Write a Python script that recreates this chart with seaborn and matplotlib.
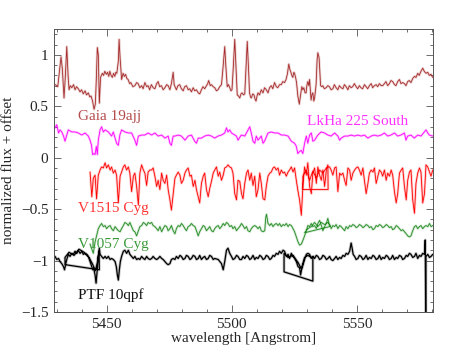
import numpy as np
import pandas as pd
import matplotlib
matplotlib.use("Agg")
import matplotlib.pyplot as plt
import seaborn as sns
from matplotlib.ticker import MultipleLocator, FuncFormatter

# spectra: (wavelength [A], normalized flux + offset)
gaia = [(5429.5, 0.71), (5430.5, 0.69), (5431.3, 0.87), (5431.8, 0.98), (5432.3, 0.87), (5433.0, 0.58),
        (5433.5, 0.78), (5434.1, 1.08), (5434.6, 0.81), (5435.0, 0.66), (5435.5, 0.70), (5436.1, 0.68),
        (5436.8, 0.71), (5437.4, 0.66), (5438.0, 0.69), (5438.7, 0.67), (5439.4, 0.64), (5440.0, 0.66),
        (5440.7, 0.62), (5441.4, 0.65), (5442.0, 0.61), (5442.7, 0.63), (5443.3, 0.59), (5443.8, 0.60),
        (5444.4, 0.55), (5445.0, 0.47), (5445.5, 0.52), (5445.9, 0.76), (5446.3, 1.07), (5446.7, 1.00),
        (5447.1, 0.53), (5447.6, 0.78), (5448.3, 0.82), (5448.8, 0.80), (5449.3, 0.84), (5449.9, 0.81),
        (5450.4, 0.83), (5450.9, 0.79), (5451.3, 0.84), (5451.8, 0.80), (5452.3, 0.78), (5452.8, 0.82),
        (5453.3, 0.79), (5453.7, 0.83), (5454.1, 0.82), (5454.7, 0.94), (5455.0, 1.15), (5455.4, 0.97),
        (5456.0, 0.76), (5456.6, 0.82), (5457.1, 0.79), (5457.6, 0.81), (5458.1, 0.77), (5458.6, 0.76),
        (5459.2, 0.72), (5459.7, 0.73), (5460.5, 0.69), (5461.3, 0.70), (5462.0, 0.73), (5462.6, 0.72),
        (5463.3, 0.68), (5464.0, 0.70), (5464.6, 0.67), (5465.3, 0.73), (5466.0, 0.69), (5466.6, 0.70),
        (5467.2, 0.66), (5467.9, 0.71), (5468.6, 0.68), (5469.3, 0.67), (5470.0, 0.72), (5470.6, 0.74),
        (5471.2, 0.69), (5471.9, 0.70), (5472.6, 0.66), (5473.3, 0.68), (5474.0, 0.71), (5474.6, 0.70),
        (5475.3, 0.66), (5475.9, 0.72), (5476.6, 0.83), (5477.0, 0.71), (5477.5, 0.68), (5477.9, 0.66),
        (5478.5, 0.70), (5479.2, 0.71), (5479.9, 0.67), (5480.6, 0.65), (5481.2, 0.69), (5481.9, 0.70),
        (5482.6, 0.66), (5483.2, 0.67), (5483.9, 0.64), (5484.6, 0.68), (5485.2, 0.65), (5485.9, 0.66),
        (5486.6, 0.63), (5487.2, 0.62), (5487.9, 0.66), (5488.5, 0.69), (5489.2, 0.67), (5489.9, 0.70),
        (5490.4, 0.72), (5490.8, 0.75), (5491.4, 0.70), (5491.9, 0.71), (5492.6, 0.69), (5493.2, 0.68),
        (5493.9, 0.65), (5494.5, 0.66), (5495.2, 0.69), (5495.9, 0.71), (5496.5, 0.87), (5497.2, 1.08),
        (5497.7, 0.87), (5498.2, 0.69), (5498.7, 0.71), (5499.2, 0.68), (5499.7, 0.65), (5500.1, 0.66),
        (5500.6, 0.87), (5501.2, 1.15), (5501.7, 0.87), (5502.2, 0.61), (5502.7, 0.60), (5503.2, 0.58),
        (5503.7, 0.62), (5504.1, 0.63), (5504.7, 0.61), (5505.2, 0.62), (5505.7, 0.87), (5506.2, 1.13),
        (5506.7, 0.87), (5507.1, 0.63), (5507.5, 0.59), (5507.8, 0.58), (5508.4, 0.62), (5508.9, 0.61),
        (5509.3, 0.57), (5509.7, 0.55), (5510.1, 0.60), (5510.5, 0.63), (5511.1, 0.61), (5511.8, 0.66),
        (5512.5, 0.63), (5513.1, 0.68), (5513.8, 0.66), (5514.5, 0.63), (5515.1, 0.68), (5515.8, 0.70),
        (5516.4, 0.67), (5517.1, 0.73), (5517.8, 0.69), (5518.4, 0.68), (5519.1, 0.71), (5519.8, 0.71),
        (5520.4, 0.74), (5521.1, 0.73), (5521.7, 0.76), (5522.2, 0.81), (5522.8, 0.91), (5523.2, 0.86),
        (5523.5, 0.84), (5524.0, 0.80), (5524.4, 0.78), (5524.8, 0.83), (5525.1, 0.82), (5525.5, 0.78),
        (5525.9, 0.73), (5526.4, 0.60), (5527.0, 0.52), (5527.5, 0.61), (5528.0, 0.69), (5528.4, 0.66),
        (5528.8, 0.68), (5529.3, 0.63), (5529.7, 0.63), (5530.0, 0.70), (5530.4, 0.74), (5530.8, 0.70),
        (5531.1, 0.76), (5531.7, 0.56), (5532.1, 0.62), (5532.4, 0.63), (5532.8, 0.55), (5533.1, 0.58),
        (5533.7, 0.71), (5534.1, 0.95), (5534.4, 1.02), (5534.9, 0.97), (5535.5, 0.70), (5536.0, 0.69),
        (5536.4, 0.70), (5537.0, 0.67), (5537.7, 0.68), (5538.4, 0.70), (5539.0, 0.69), (5539.7, 0.66),
        (5540.4, 0.67), (5541.0, 0.71), (5541.7, 0.68), (5542.4, 0.66), (5543.0, 0.70), (5543.7, 0.68),
        (5544.4, 0.67), (5545.0, 0.71), (5545.7, 0.69), (5546.4, 0.66), (5547.0, 0.70), (5547.7, 0.68),
        (5548.3, 0.69), (5549.0, 0.72), (5549.7, 0.69), (5550.3, 0.67), (5551.0, 0.70), (5551.6, 0.68),
        (5552.3, 0.67), (5553.0, 0.71), (5553.7, 0.69), (5554.3, 0.67), (5555.0, 0.70), (5555.7, 0.72),
        (5556.3, 0.68), (5557.0, 0.70), (5557.7, 0.71), (5558.3, 0.69), (5559.0, 0.72), (5559.7, 0.70),
        (5560.3, 0.70), (5561.0, 0.72), (5561.6, 0.74), (5562.3, 0.70), (5563.0, 0.72), (5563.6, 0.75),
        (5564.3, 0.74), (5565.0, 0.71), (5565.6, 0.70), (5566.3, 0.74), (5567.0, 0.76), (5567.6, 0.72),
        (5568.3, 0.73), (5569.0, 0.72), (5569.6, 0.70), (5570.3, 0.74), (5570.9, 0.75), (5571.6, 0.73),
        (5572.3, 0.77), (5573.0, 0.79), (5573.6, 0.78), (5574.3, 0.82), (5574.9, 0.80), (5575.6, 0.84),
        (5576.3, 0.87), (5576.9, 0.84), (5577.6, 0.82), (5578.3, 0.83), (5578.9, 0.80), (5579.6, 0.81),
        (5580.3, 0.78)]

lkha = [(5429.4, 0.29), (5430.1, 0.32), (5430.8, 0.24), (5431.4, 0.27), (5432.1, 0.25), (5432.8, 0.21),
        (5433.4, 0.16), (5434.1, 0.22), (5434.7, 0.27), (5436.1, 0.25), (5437.4, 0.25), (5438.7, 0.24),
        (5440.1, 0.22), (5441.4, 0.24), (5442.7, 0.21), (5443.4, 0.17), (5444.0, 0.12), (5444.4, 0.03),
        (5445.0, 0.04), (5445.4, 0.03), (5445.9, 0.11), (5446.3, 0.03), (5446.7, 0.17), (5447.4, 0.27),
        (5448.0, 0.30), (5448.7, 0.25), (5449.4, 0.27), (5450.7, 0.25), (5452.0, 0.21), (5452.7, 0.25),
        (5453.4, 0.19), (5454.0, 0.14), (5454.7, 0.12), (5455.3, 0.22), (5456.0, 0.27), (5457.3, 0.25),
        (5458.7, 0.24), (5460.0, 0.24), (5461.3, 0.17), (5462.0, 0.12), (5462.7, 0.21), (5464.0, 0.22),
        (5465.3, 0.22), (5466.6, 0.24), (5468.0, 0.22), (5469.3, 0.24), (5470.6, 0.21), (5472.0, 0.22),
        (5473.3, 0.19), (5474.6, 0.21), (5475.3, 0.14), (5475.9, 0.12), (5476.6, 0.21), (5477.3, 0.21),
        (5478.6, 0.22), (5479.9, 0.21), (5481.3, 0.17), (5482.6, 0.21), (5483.9, 0.22), (5485.2, 0.16),
        (5485.9, 0.14), (5486.6, 0.19), (5487.9, 0.19), (5489.2, 0.21), (5490.6, 0.22), (5491.9, 0.21),
        (5493.2, 0.19), (5494.5, 0.21), (5495.9, 0.22), (5497.2, 0.24), (5497.9, 0.29), (5498.5, 0.25),
        (5499.2, 0.27), (5499.9, 0.24), (5501.2, 0.22), (5501.9, 0.21), (5502.5, 0.17), (5503.8, 0.22),
        (5505.2, 0.21), (5506.5, 0.27), (5507.2, 0.30), (5507.8, 0.24), (5508.5, 0.16), (5509.2, 0.14),
        (5509.8, 0.21), (5510.5, 0.17), (5511.8, 0.21), (5512.5, 0.14), (5513.1, 0.16), (5514.5, 0.24),
        (5515.8, 0.25), (5517.1, 0.24), (5518.5, 0.24), (5519.8, 0.22), (5521.1, 0.22), (5522.5, 0.21),
        (5523.8, 0.16), (5525.1, 0.14), (5525.8, 0.11), (5526.4, 0.04), (5527.1, 0.06), (5527.8, 0.07),
        (5528.4, 0.04), (5529.1, 0.14), (5529.8, 0.21), (5530.4, 0.14), (5531.1, 0.22), (5531.8, 0.24),
        (5532.4, 0.16), (5533.1, 0.17), (5534.4, 0.22), (5535.7, 0.25), (5537.1, 0.24), (5538.4, 0.22),
        (5539.7, 0.21), (5541.1, 0.24), (5542.4, 0.21), (5543.1, 0.17), (5543.7, 0.19), (5545.1, 0.21),
        (5546.4, 0.21), (5547.7, 0.22), (5549.0, 0.21), (5550.4, 0.22), (5551.7, 0.21), (5553.0, 0.22),
        (5554.4, 0.19), (5555.7, 0.21), (5557.0, 0.22), (5558.3, 0.21), (5559.7, 0.22), (5561.0, 0.24),
        (5562.3, 0.21), (5563.6, 0.22), (5565.0, 0.24), (5566.3, 0.21), (5567.6, 0.22), (5569.0, 0.24),
        (5569.6, 0.17), (5570.3, 0.21), (5571.6, 0.22), (5572.9, 0.19), (5574.3, 0.22), (5575.6, 0.21),
        (5576.9, 0.25), (5577.6, 0.27), (5578.3, 0.24), (5578.9, 0.22), (5580.3, 0.21)]

v1515 = [(5443.4, -0.14), (5444.1, -0.38), (5444.7, -0.20), (5445.4, -0.17), (5446.0, -0.40), (5446.7, -0.17),
         (5447.4, -0.12), (5448.0, -0.09), (5448.7, -0.10), (5449.4, -0.05), (5450.0, -0.10), (5450.7, -0.07),
         (5451.4, -0.12), (5452.0, -0.09), (5452.7, -0.15), (5453.4, -0.12), (5454.0, -0.17), (5454.7, -0.44),
         (5455.4, -0.18), (5456.0, -0.14), (5456.7, -0.09), (5457.3, -0.07), (5458.0, -0.12), (5458.7, -0.09),
         (5459.3, -0.15), (5460.0, -0.33), (5460.7, -0.18), (5461.3, -0.15), (5462.0, -0.28), (5462.7, -0.46),
         (5463.3, -0.15), (5464.0, -0.07), (5464.7, -0.12), (5465.3, -0.15), (5466.0, -0.27), (5466.6, -0.14),
         (5467.3, -0.12), (5468.0, -0.12), (5468.6, -0.10), (5469.3, -0.18), (5470.0, -0.28), (5470.6, -0.22),
         (5471.3, -0.31), (5472.0, -0.15), (5472.6, -0.22), (5473.3, -0.25), (5474.0, -0.17), (5474.6, -0.31),
         (5475.3, -0.41), (5475.9, -0.51), (5476.6, -0.35), (5477.3, -0.20), (5477.9, -0.17), (5478.6, -0.14),
         (5479.3, -0.17), (5479.9, -0.25), (5480.6, -0.22), (5481.3, -0.15), (5481.9, -0.12), (5482.6, -0.10),
         (5483.3, -0.18), (5483.9, -0.17), (5484.6, -0.28), (5485.3, -0.22), (5485.9, -0.31), (5486.6, -0.38),
         (5487.2, -0.44), (5487.9, -0.25), (5488.6, -0.18), (5489.2, -0.15), (5489.9, -0.31), (5490.6, -0.38),
         (5491.2, -0.30), (5491.9, -0.23), (5492.6, -0.15), (5493.2, -0.12), (5493.9, -0.09), (5494.6, -0.18),
         (5495.2, -0.14), (5495.9, -0.22), (5496.6, -0.17), (5497.2, -0.10), (5497.9, -0.09), (5498.5, -0.07),
         (5499.2, -0.09), (5499.9, -0.10), (5500.5, -0.15), (5501.2, -0.35), (5501.9, -0.41), (5502.5, -0.22),
         (5503.2, -0.23), (5503.9, -0.35), (5504.5, -0.40), (5505.2, -0.25), (5505.9, -0.15), (5506.5, -0.12),
         (5507.2, -0.22), (5507.8, -0.15), (5508.5, -0.27), (5509.2, -0.18), (5509.8, -0.38), (5510.5, -0.31),
         (5511.2, -0.15), (5511.8, -0.25), (5512.5, -0.40), (5513.2, -0.41), (5513.8, -0.28), (5514.5, -0.18),
         (5515.2, -0.15), (5515.8, -0.14), (5516.5, -0.10), (5517.1, -0.09), (5517.8, -0.12), (5518.5, -0.10),
         (5519.1, -0.17), (5519.8, -0.12), (5520.5, -0.15), (5521.1, -0.14), (5521.8, -0.18), (5522.5, -0.14),
         (5523.1, -0.12), (5523.8, -0.09), (5524.5, -0.14), (5525.1, -0.10), (5525.8, -0.22), (5526.5, -0.33),
         (5527.1, -0.41), (5527.8, -0.56), (5528.5, -0.25), (5529.1, -0.09), (5529.8, -0.17), (5530.4, -0.05),
         (5531.1, -0.28), (5531.8, -0.35), (5532.4, -0.15), (5533.1, -0.10), (5533.8, -0.25), (5534.4, -0.09),
         (5535.1, -0.17), (5535.8, -0.22), (5536.4, -0.12), (5537.1, -0.28), (5537.8, -0.12), (5538.4, -0.07),
         (5538.5, -0.31), (5528.4, -0.31), (5528.4, -0.18), (5529.8, -0.12), (5531.1, -0.22), (5532.4, -0.13),
         (5533.8, -0.20), (5535.1, -0.12), (5536.4, -0.15), (5537.8, -0.10), (5538.6, -0.09),
         (5539.1, -0.09), (5539.7, -0.12), (5540.4, -0.17), (5541.1, -0.10), (5541.7, -0.09), (5542.4, -0.33),
         (5543.1, -0.15), (5543.7, -0.17), (5544.4, -0.15), (5545.1, -0.22), (5545.7, -0.27), (5546.4, -0.10),
         (5547.1, -0.12), (5547.7, -0.22), (5548.4, -0.15), (5549.1, -0.12), (5549.7, -0.10), (5550.4, -0.09),
         (5551.0, -0.12), (5551.7, -0.17), (5552.4, -0.10), (5553.0, -0.22), (5553.7, -0.35), (5554.4, -0.25),
         (5555.0, -0.15), (5555.7, -0.12), (5556.4, -0.14), (5557.0, -0.10), (5557.7, -0.25), (5558.4, -0.18),
         (5559.0, -0.12), (5559.7, -0.14), (5560.3, -0.18), (5561.0, -0.12), (5561.7, -0.22), (5562.3, -0.15),
         (5563.0, -0.18), (5563.7, -0.12), (5564.3, -0.17), (5565.0, -0.33), (5565.7, -0.44), (5566.3, -0.35),
         (5567.0, -0.15), (5567.7, -0.12), (5568.3, -0.10), (5569.0, -0.28), (5569.7, -0.41), (5570.3, -0.22),
         (5571.0, -0.14), (5571.6, -0.12), (5572.3, -0.41), (5573.0, -0.54), (5573.6, -0.25), (5574.3, -0.15),
         (5575.0, -0.10), (5575.6, -0.14), (5576.3, -0.44), (5577.0, -0.35), (5577.6, -0.07), (5578.3, -0.09),
         (5579.0, -0.14), (5579.6, -0.18), (5580.3, -0.12)]

v1057 = [(5443.4, -0.84), (5444.1, -0.89), (5444.7, -0.93), (5445.4, -0.82), (5446.0, -0.76), (5446.7, -0.69),
         (5447.4, -0.66), (5448.0, -0.64), (5448.7, -0.67), (5449.4, -0.66), (5450.0, -0.69), (5450.7, -0.67),
         (5451.4, -0.66), (5452.0, -0.69), (5452.7, -0.71), (5453.4, -0.67), (5454.0, -0.69), (5454.7, -0.71),
         (5455.4, -0.72), (5456.0, -0.69), (5456.7, -0.66), (5457.3, -0.63), (5458.0, -0.64), (5458.7, -0.66),
         (5459.3, -0.63), (5460.0, -0.67), (5460.7, -0.71), (5461.3, -0.72), (5462.0, -0.76), (5462.7, -0.71),
         (5463.3, -0.67), (5464.0, -0.66), (5464.7, -0.63), (5465.3, -0.64), (5466.0, -0.66), (5466.6, -0.63),
         (5467.3, -0.64), (5468.0, -0.63), (5468.6, -0.66), (5469.3, -0.67), (5470.0, -0.69), (5470.6, -0.71),
         (5471.3, -0.67), (5472.0, -0.72), (5472.6, -0.69), (5473.3, -0.66), (5474.0, -0.67), (5474.6, -0.71),
         (5475.3, -0.69), (5475.9, -0.66), (5476.6, -0.71), (5477.3, -0.74), (5477.9, -0.69), (5478.6, -0.66),
         (5479.3, -0.67), (5479.9, -0.64), (5480.6, -0.66), (5481.3, -0.69), (5481.9, -0.71), (5482.6, -0.67),
         (5483.3, -0.66), (5483.9, -0.64), (5484.6, -0.66), (5485.3, -0.67), (5485.9, -0.71), (5486.6, -0.76),
         (5487.2, -0.72), (5487.9, -0.69), (5488.6, -0.66), (5489.2, -0.67), (5489.9, -0.71), (5490.6, -0.69),
         (5491.2, -0.67), (5491.9, -0.71), (5492.6, -0.72), (5493.2, -0.69), (5493.9, -0.67), (5494.6, -0.66),
         (5495.2, -0.69), (5495.9, -0.67), (5496.6, -0.64), (5497.2, -0.66), (5497.9, -0.63), (5498.5, -0.64),
         (5499.2, -0.67), (5499.9, -0.66), (5500.5, -0.69), (5501.2, -0.67), (5501.9, -0.71), (5502.5, -0.69),
         (5503.2, -0.67), (5503.9, -0.64), (5504.5, -0.66), (5505.2, -0.69), (5505.9, -0.67), (5506.5, -0.71),
         (5507.2, -0.72), (5507.8, -0.69), (5508.5, -0.67), (5509.2, -0.66), (5509.8, -0.67), (5510.5, -0.69),
         (5511.2, -0.67), (5511.8, -0.71), (5512.5, -0.72), (5513.2, -0.71), (5513.6, -0.58), (5513.9, -0.55),
         (5514.5, -0.64), (5515.2, -0.66), (5515.8, -0.64), (5516.5, -0.67), (5517.1, -0.65), (5517.8, -0.64),
         (5518.5, -0.66), (5519.1, -0.64), (5519.8, -0.67), (5520.5, -0.65), (5521.1, -0.66), (5521.8, -0.64),
         (5522.5, -0.67), (5523.1, -0.65), (5523.8, -0.66), (5524.5, -0.69), (5525.1, -0.72), (5525.8, -0.77),
         (5526.5, -0.82), (5527.1, -0.85), (5527.8, -0.84), (5528.5, -0.80), (5529.1, -0.76), (5529.8, -0.71),
         (5530.4, -0.66), (5531.1, -0.67), (5531.8, -0.64), (5532.4, -0.67), (5533.1, -0.66), (5533.8, -0.69),
         (5534.4, -0.64), (5535.1, -0.61), (5535.8, -0.66), (5536.4, -0.71), (5537.1, -0.67), (5537.8, -0.64),
         (5538.4, -0.59), (5539.1, -0.67),
         (5529.1, -0.73), (5530.4, -0.69), (5531.8, -0.67), (5533.1, -0.63), (5534.4, -0.67), (5535.8, -0.63),
         (5537.1, -0.65), (5538.4, -0.63), (5539.4, -0.66),
         (5539.7, -0.69), (5540.4, -0.66), (5541.1, -0.67), (5541.7, -0.65), (5542.4, -0.69), (5543.1, -0.66),
         (5543.7, -0.67), (5544.4, -0.69), (5545.1, -0.71), (5545.7, -0.67), (5546.4, -0.69), (5547.1, -0.66),
         (5547.7, -0.67), (5548.4, -0.65), (5549.1, -0.66), (5549.7, -0.68), (5550.4, -0.67), (5551.0, -0.65),
         (5551.7, -0.66), (5552.4, -0.68), (5553.0, -0.67), (5553.7, -0.65), (5554.4, -0.66), (5555.0, -0.68),
         (5555.7, -0.67), (5556.4, -0.70), (5557.0, -0.69), (5557.7, -0.66), (5558.4, -0.67), (5559.0, -0.65),
         (5559.7, -0.66), (5560.3, -0.68), (5561.0, -0.67), (5561.7, -0.65), (5562.3, -0.66), (5563.0, -0.68),
         (5563.7, -0.67), (5564.3, -0.70), (5565.0, -0.69), (5565.7, -0.66), (5566.3, -0.67), (5567.0, -0.69),
         (5567.7, -0.71), (5568.3, -0.70), (5569.0, -0.72), (5569.7, -0.74), (5570.3, -0.76), (5571.0, -0.77),
         (5571.6, -0.76), (5572.3, -0.71), (5573.0, -0.67), (5573.6, -0.66), (5574.3, -0.69), (5575.0, -0.67),
         (5575.6, -0.66), (5576.3, -0.69), (5577.0, -0.67), (5577.6, -0.66), (5578.3, -0.67), (5579.0, -0.64),
         (5579.6, -0.67), (5580.3, -0.66)]

ptf = [(5429.4, -0.96), (5430.1, -0.99), (5430.8, -0.98), (5431.4, -1.01), (5432.1, -1.03), (5432.8, -1.06),
       (5433.2, -1.09), (5433.7, -1.03), (5434.2, -0.98), (5434.8, -0.94), (5435.4, -0.96), (5436.1, -0.93),
       (5436.7, -0.94), (5437.4, -0.91), (5438.1, -0.93), (5438.7, -0.90), (5439.4, -0.93), (5440.1, -0.91),
       (5440.7, -0.94), (5441.4, -0.93), (5442.1, -0.94), (5442.7, -0.96), (5443.4, -1.01), (5444.1, -1.06),
       (5444.5, -1.09), (5444.8, -1.07), (5445.4, -1.14), (5445.8, -1.22), (5446.2, -1.11), (5446.6, -0.98),
       (5447.0, -0.91), (5447.1, -1.09), (5433.4, -1.04),
       (5433.4, -0.97), (5435.0, -0.92), (5437.0, -0.95), (5439.0, -0.89), (5441.0, -0.92), (5443.0, -0.97),
       (5444.5, -1.04), (5445.5, -1.10), (5446.3, -1.02), (5447.1, -0.88),
       (5447.4, -0.94), (5448.0, -0.96), (5448.7, -0.98), (5449.4, -0.96), (5450.0, -0.98), (5450.7, -0.96),
       (5451.4, -0.99), (5452.0, -0.98), (5452.7, -0.99), (5453.4, -1.01), (5453.9, -1.06), (5454.3, -1.14),
       (5454.7, -1.19), (5455.1, -1.09), (5455.5, -1.01), (5456.0, -0.96), (5456.7, -0.91), (5457.3, -0.90),
       (5458.0, -0.93), (5458.7, -0.90), (5459.3, -0.94), (5460.0, -0.96), (5460.7, -0.98), (5461.3, -0.96),
       (5462.0, -0.99), (5462.7, -0.98), (5463.3, -0.99), (5464.0, -0.96), (5464.7, -0.98), (5465.3, -0.99),
       (5466.0, -0.96), (5466.6, -0.98), (5467.3, -0.99), (5468.0, -0.98), (5468.6, -0.96), (5469.3, -0.98),
       (5470.0, -0.99), (5470.6, -0.98), (5471.3, -0.96), (5472.0, -0.98), (5472.6, -0.99), (5473.3, -1.01),
       (5474.0, -1.03), (5474.6, -1.04), (5475.3, -1.03), (5475.9, -0.99), (5476.6, -0.98), (5477.3, -0.99),
       (5477.9, -0.96), (5478.6, -0.98), (5479.3, -0.95), (5479.9, -0.96), (5480.6, -0.99), (5481.3, -0.98),
       (5481.9, -0.95), (5482.6, -0.96), (5483.3, -0.99), (5483.9, -0.98), (5484.6, -0.95), (5485.3, -0.96),
       (5485.9, -0.99), (5486.6, -0.98), (5487.2, -0.95), (5487.9, -0.99), (5488.6, -0.97), (5489.2, -0.96),
       (5489.9, -0.99), (5490.6, -0.98), (5491.2, -0.95), (5491.9, -0.96), (5492.6, -0.99), (5493.2, -0.98),
       (5494.6, -0.99), (5495.9, -1.03), (5496.6, -1.09), (5497.2, -1.01), (5497.9, -0.90), (5498.5, -0.88),
       (5499.2, -0.93), (5499.9, -0.96), (5500.5, -0.99), (5501.2, -0.98), (5501.9, -0.95), (5502.5, -0.96),
       (5503.2, -0.99), (5503.9, -0.99), (5504.5, -0.96), (5505.2, -0.98), (5505.9, -0.95), (5506.5, -0.96),
       (5507.2, -0.99), (5507.8, -0.98), (5508.5, -0.95), (5509.2, -0.99), (5509.8, -0.97), (5510.5, -0.98),
       (5511.2, -0.95), (5511.8, -0.96), (5512.5, -0.99), (5513.2, -0.98), (5513.8, -0.95), (5514.5, -0.96),
       (5515.2, -0.99), (5515.8, -0.98), (5516.5, -0.95), (5517.1, -0.96), (5517.8, -0.93), (5518.5, -0.94),
       (5519.1, -0.91), (5519.8, -0.93), (5520.5, -0.90), (5521.1, -0.91),
       (5521.8, -0.96), (5522.5, -0.94), (5523.1, -0.98), (5523.8, -0.93), (5524.5, -0.96), (5525.1, -0.98),
       (5525.8, -1.01), (5526.5, -1.06), (5527.1, -1.07), (5527.5, -1.14), (5527.9, -1.09), (5528.5, -1.04),
       (5529.1, -0.99), (5529.8, -0.94), (5530.4, -0.93), (5531.1, -0.94), (5531.8, -0.98), (5532.4, -0.96),
       (5532.4, -1.20), (5520.9, -1.11), (5520.9, -0.93),
       (5522.5, -0.97), (5524.5, -0.95), (5526.5, -1.02), (5527.8, -1.08), (5529.1, -0.97), (5530.4, -0.95),
       (5531.8, -0.97), (5532.6, -0.96),
       (5533.1, -0.98), (5533.8, -0.95), (5534.4, -0.96), (5535.1, -0.99), (5535.8, -0.98), (5536.4, -0.95),
       (5537.1, -0.96), (5537.8, -0.99), (5538.4, -0.98), (5539.1, -0.96), (5539.7, -0.99), (5540.4, -1.00),
       (5541.1, -0.98), (5541.7, -0.96), (5542.4, -0.99), (5543.1, -0.97), (5543.7, -0.98), (5544.4, -0.95),
       (5545.1, -0.96), (5545.7, -0.93), (5546.4, -0.94), (5547.1, -0.91),
       (5547.7, -0.83), (5548.1, -0.88), (5548.5, -0.94), (5549.1, -0.96), (5549.7, -0.99), (5550.4, -0.98),
       (5551.0, -0.95), (5551.7, -0.96), (5552.4, -0.99), (5553.0, -0.98), (5553.7, -0.95), (5554.4, -0.99),
       (5555.0, -0.97), (5555.7, -0.98), (5556.4, -0.95), (5557.0, -0.96), (5557.7, -0.99), (5558.4, -0.98),
       (5559.0, -0.95), (5559.7, -0.99), (5560.3, -0.97), (5561.0, -0.98), (5561.7, -0.95), (5562.3, -0.96),
       (5563.0, -0.99), (5563.7, -0.98), (5564.3, -0.95), (5565.0, -0.99), (5565.7, -0.97), (5566.3, -0.98),
       (5567.0, -0.95), (5567.7, -0.96), (5568.3, -0.99), (5569.0, -0.98), (5569.7, -0.95), (5570.3, -0.96),
       (5571.0, -0.93), (5571.6, -0.94), (5572.3, -0.97), (5573.0, -0.96), (5573.6, -0.93), (5574.3, -0.98),
       (5575.0, -0.95), (5575.6, -0.96), (5576.3, -0.93), (5577.0, -0.94), (5577.3, -0.80), (5577.5, -1.60),
       (5577.6, -0.96), (5578.3, -0.94), (5579.0, -0.97), (5579.6, -0.96), (5580.3, -0.94)]

names = ["Gaia 19ajj", "LkHa 225 South", "V1515 Cyg", "V1057 Cyg", "PTF 10qpf"]
spectra = [gaia, lkha, v1515, v1057, ptf]
colors = ["#a52a2a", "#ff00ff", "#ff0000", "#228b22", "#000000"]
label_colors = ["#b54a4a", "#ff33ff", "#ff3333", "#3a9a3a", "#111111"]
label_pos = [(5438.6, 0.40), (5530.0, 0.35), (5438.6, -0.49), (5438.6, -0.84), (5438.6, -1.34)]
line_widths = [0.6, 0.6, 0.6, 0.6, 0.9]

sns.set_style("ticks")
plt.rcParams["font.family"] = ["Liberation Serif", "DejaVu Serif"]
plt.rcParams["font.size"] = 11

fig = plt.figure(figsize=(4.52, 3.59), dpi=100)
ax = fig.add_axes([0.1195, 0.131, 0.839, 0.788])

for name, spec, col, lw in zip(names, spectra, colors, line_widths):
    df = pd.DataFrame(spec, columns=["wavelength", "flux"])
    # light halo under the spectrum, then the spectrum itself
    sns.lineplot(data=df, x="wavelength", y="flux", sort=False, estimator=None,
                 color=col, lw=lw + 1.2, alpha=0.22, ax=ax)
    sns.lineplot(data=df, x="wavelength", y="flux", sort=False, estimator=None,
                 color=col, lw=lw, ax=ax)

for name, (lx, ly), col in zip(names, label_pos, label_colors):
    ax.text(lx, ly, name, color=col, fontsize=11, va="center", ha="left")

ax.set_xlim(5429, 5580.5)
ax.set_ylim(-1.5, 1.25)
ax.xaxis.set_major_locator(MultipleLocator(50))
ax.xaxis.set_minor_locator(MultipleLocator(10))
ax.yaxis.set_major_locator(MultipleLocator(0.5))
ax.yaxis.set_minor_locator(MultipleLocator(0.1))
ax.yaxis.set_major_formatter(FuncFormatter(lambda v, _: f"{v:g}".replace("-", "\u2212")))
ax.tick_params(which="both", direction="in", top=True, right=True, color="#555555", width=0.6)
ax.tick_params(which="major", length=5, labelsize=11, pad=4)
ax.tick_params(which="minor", length=2.5)
for s in ax.spines.values():
    s.set_linewidth(0.7)
    s.set_color("#555555")

ax.set_xlabel("wavelength [Angstrom]", fontsize=11, labelpad=1)
ax.set_ylabel("normalized flux + offset", fontsize=11, labelpad=4)

fig.savefig("out.png", dpi=100)
